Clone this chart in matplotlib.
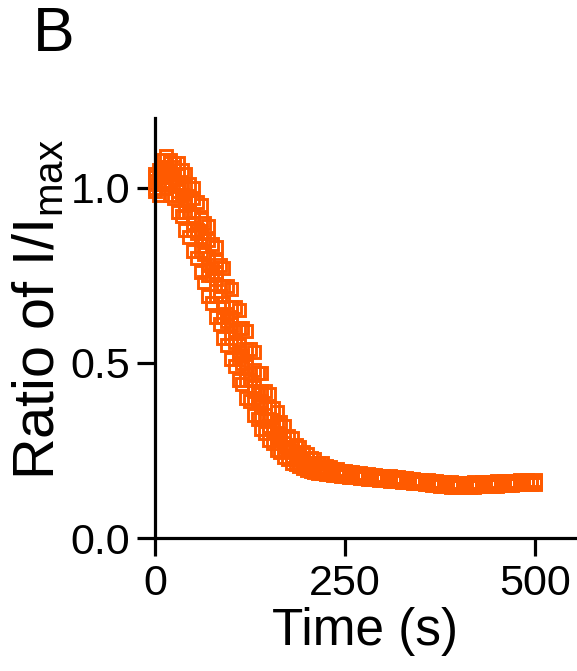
import matplotlib
matplotlib.use("Agg")
import matplotlib.pyplot as plt

plt.rcParams['font.family'] = ['Liberation Sans', 'DejaVu Sans']
plt.rcParams['mathtext.fontset'] = 'custom'
plt.rcParams['mathtext.rm'] = 'Liberation Sans'

# time points (s)
time_a = [0, 10, 20, 30, 40, 50, 60, 70, 80, 90,
          100, 110, 120, 130, 140, 150, 160, 170, 180, 190,
          200, 210, 220, 230, 240, 250, 260, 270, 280, 290,
          300, 310, 320, 330, 340, 350, 360, 370, 380, 390,
          400, 410, 420, 430, 440, 450, 460, 470, 480, 490, 500]
time_b = [5, 15, 25, 35, 45, 55, 65, 75, 85, 95,
          105, 115, 125, 135, 145, 155, 165, 175, 185, 195,
          205, 215, 225, 235, 245, 255, 265, 275, 285, 295,
          305, 315, 325, 335, 345, 355, 365, 375, 385, 395,
          405, 415, 425, 435, 445, 455, 465, 475, 485, 495]

# normalised intensity traces I/Imax (one list per cell)
cell_1 = [1.00, 1.01, 0.98, 0.93, 0.88, 0.82, 0.76, 0.69, 0.63, 0.57,
          0.51, 0.45, 0.40, 0.35, 0.31, 0.28, 0.25, 0.23, 0.215, 0.205,
          0.195, 0.19, 0.185, 0.182, 0.18, 0.177, 0.175, 0.172, 0.17, 0.168,
          0.166, 0.164, 0.162, 0.16, 0.158, 0.156, 0.153, 0.151, 0.149, 0.147,
          0.146, 0.146, 0.147, 0.148, 0.149, 0.15, 0.151, 0.152, 0.153, 0.153, 0.154]
cell_2 = [1.03, 1.05, 1.02, 0.98, 0.93, 0.88, 0.82, 0.75, 0.69, 0.63,
          0.57, 0.51, 0.45, 0.40, 0.35, 0.31, 0.28, 0.25, 0.23, 0.215,
          0.205, 0.197, 0.19, 0.186, 0.183, 0.18, 0.177, 0.175, 0.173, 0.17,
          0.168, 0.166, 0.164, 0.162, 0.16, 0.158, 0.155, 0.153, 0.151, 0.15,
          0.149, 0.149, 0.15, 0.151, 0.152, 0.153, 0.154, 0.155, 0.156, 0.156, 0.156]
cell_3 = [1.02, 1.04, 1.04, 1.01, 0.97, 0.92, 0.86, 0.80, 0.74, 0.67,
          0.61, 0.55, 0.49, 0.43, 0.38, 0.34, 0.30, 0.27, 0.245, 0.228,
          0.213, 0.203, 0.196, 0.19, 0.186, 0.182, 0.179, 0.177, 0.175, 0.173,
          0.171, 0.169, 0.167, 0.165, 0.163, 0.161, 0.158, 0.156, 0.154, 0.153,
          0.152, 0.152, 0.153, 0.154, 0.155, 0.156, 0.157, 0.158, 0.159, 0.159, 0.159]
cell_4 = [1.01, 1.06, 1.07, 1.04, 1.01, 0.97, 0.91, 0.85, 0.79, 0.72,
          0.66, 0.60, 0.54, 0.48, 0.42, 0.37, 0.33, 0.29, 0.26, 0.24,
          0.225, 0.212, 0.203, 0.196, 0.19, 0.186, 0.183, 0.18, 0.178, 0.176,
          0.174, 0.172, 0.17, 0.168, 0.166, 0.163, 0.161, 0.159, 0.157, 0.155,
          0.154, 0.154, 0.155, 0.156, 0.157, 0.158, 0.159, 0.16, 0.161, 0.161, 0.162]
cell_5 = [0.99, 1.08, 1.08, 1.07, 1.04, 1.00, 0.95, 0.89, 0.83, 0.77,
          0.71, 0.65, 0.59, 0.53, 0.47, 0.41, 0.36, 0.32, 0.285, 0.26,
          0.24, 0.225, 0.213, 0.204, 0.197, 0.192, 0.188, 0.185, 0.182, 0.18,
          0.178, 0.176, 0.174, 0.172, 0.17, 0.167, 0.165, 0.163, 0.161, 0.159,
          0.158, 0.158, 0.159, 0.16, 0.161, 0.162, 0.163, 0.164, 0.165, 0.165, 0.166]
cell_6 = [1.04, 1.02, 1.05, 0.99, 0.95, 0.90, 0.87, 0.78, 0.76, 0.66,
          0.63, 0.53, 0.50, 0.42, 0.39, 0.32, 0.29, 0.26, 0.235, 0.222,
          0.208, 0.2, 0.192, 0.188, 0.184, 0.179, 0.178, 0.174, 0.174, 0.171,
          0.17, 0.167, 0.166, 0.163, 0.162, 0.159, 0.157, 0.154, 0.153, 0.151,
          0.15, 0.151, 0.151, 0.153, 0.153, 0.155, 0.155, 0.157, 0.157, 0.158, 0.157]
cell_7 = [1.02, 1.06, 1.03, 0.98, 0.93, 0.87, 0.81, 0.75, 0.69, 0.62,
          0.56, 0.50, 0.45, 0.39, 0.35, 0.31, 0.28, 0.25, 0.232, 0.217,
          0.205, 0.197, 0.191, 0.187, 0.183, 0.18, 0.177, 0.175, 0.172, 0.17,
          0.168, 0.166, 0.164, 0.162, 0.16, 0.157, 0.155, 0.153, 0.151, 0.15,
          0.149, 0.15, 0.151, 0.152, 0.153, 0.154, 0.155, 0.156, 0.157, 0.157]
cell_8 = [1.03, 1.09, 1.07, 1.05, 1.01, 0.96, 0.90, 0.84, 0.78, 0.72,
          0.66, 0.60, 0.54, 0.47, 0.42, 0.37, 0.33, 0.29, 0.265, 0.245,
          0.228, 0.215, 0.205, 0.198, 0.192, 0.188, 0.184, 0.181, 0.179, 0.177,
          0.175, 0.173, 0.171, 0.169, 0.167, 0.164, 0.162, 0.16, 0.158, 0.157,
          0.156, 0.156, 0.157, 0.158, 0.159, 0.16, 0.161, 0.162, 0.163, 0.164]
cell_9 = [0.98, 1.00, 0.97, 0.92, 0.86, 0.80, 0.73, 0.67, 0.61, 0.55,
          0.49, 0.44, 0.39, 0.34, 0.30, 0.27, 0.245, 0.225, 0.21, 0.2,
          0.192, 0.187, 0.183, 0.18, 0.178, 0.175, 0.173, 0.171, 0.169, 0.167,
          0.165, 0.163, 0.161, 0.159, 0.157, 0.155, 0.152, 0.15, 0.148, 0.147,
          0.147, 0.147, 0.148, 0.149, 0.15, 0.151, 0.152, 0.153, 0.154, 0.154]
cell_10 = [1.05, 1.03, 1.06, 1.00, 0.96, 0.88, 0.85, 0.77, 0.72, 0.64,
           0.59, 0.52, 0.47, 0.41, 0.37, 0.32, 0.29, 0.255, 0.238, 0.222,
           0.21, 0.199, 0.194, 0.188, 0.185, 0.181, 0.179, 0.176, 0.175, 0.172,
           0.171, 0.168, 0.167, 0.164, 0.163, 0.16, 0.158, 0.155, 0.154, 0.152,
           0.151, 0.152, 0.152, 0.154, 0.154, 0.156, 0.156, 0.158, 0.158, 0.159]

cells_a = [cell_1, cell_2, cell_3, cell_4, cell_5, cell_6]
cells_b = [cell_7, cell_8, cell_9, cell_10]

x_ticks = [0, 250, 500]
y_ticks = [0.0, 0.5, 1.0]
y_tick_labels = ['0.0', '0.5', '1.0']

color = '#FF5A00'

fig = plt.figure(figsize=(5.77, 6.71), dpi=100)
ax = fig.add_axes([0.2686, 0.1982, 0.728, 0.626])

for t, group in [(time_a, cells_a), (time_b, cells_b)]:
    for vals in group:
        ax.plot(t, vals, linestyle='none', marker='s', markersize=9,
                markerfacecolor='none', markeredgecolor=color, markeredgewidth=2.1,
                clip_on=False, zorder=3)

ax.set_xlim(0, 553)
ax.set_ylim(0, 1.2)
ax.set_xticks(x_ticks)
ax.set_yticks(y_ticks)
ax.set_yticklabels(y_tick_labels)

for side in ['top', 'right']:
    ax.spines[side].set_visible(False)
for side in ['left', 'bottom']:
    ax.spines[side].set_linewidth(2.3)
    ax.spines[side].set_zorder(4)

ax.tick_params(axis='both', direction='out', length=13, width=2.3, labelsize=31)
ax.tick_params(axis='x', pad=6)
ax.tick_params(axis='y', pad=5)
ax.set_xlabel('Time (s)', fontsize=37, labelpad=2)
ax.set_ylabel(r'Ratio of I/I$_\mathregular{max}$', fontsize=41.5)
ax.yaxis.set_label_coords(-0.213, 0.543)

fig.text(0.057, 0.992, 'B', fontsize=45, va='top', ha='left')

fig.savefig('out.png', dpi=100)
